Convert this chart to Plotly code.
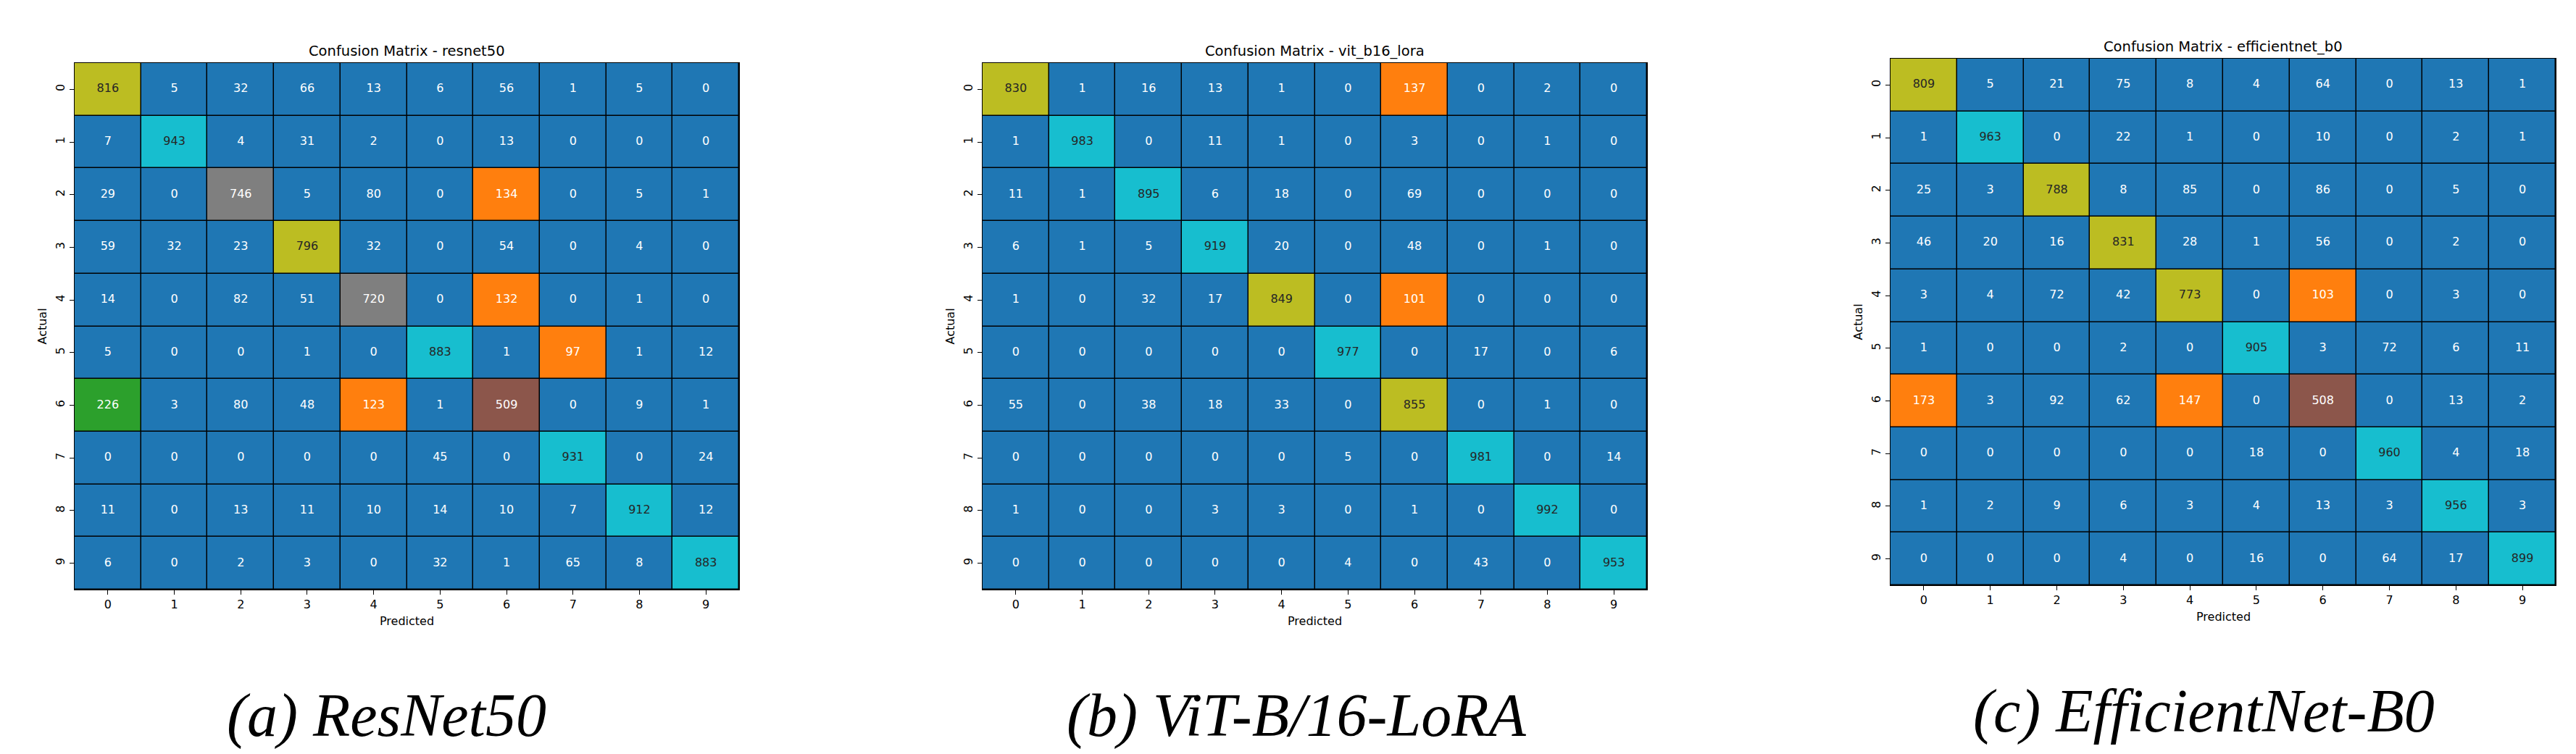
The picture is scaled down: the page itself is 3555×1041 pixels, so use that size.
import plotly.graph_objects as go

classes = list(range(10))
tick_labels = [str(c) for c in classes]

resnet50 = [
    [816, 5, 32, 66, 13, 6, 56, 1, 5, 0],
    [7, 943, 4, 31, 2, 0, 13, 0, 0, 0],
    [29, 0, 746, 5, 80, 0, 134, 0, 5, 1],
    [59, 32, 23, 796, 32, 0, 54, 0, 4, 0],
    [14, 0, 82, 51, 720, 0, 132, 0, 1, 0],
    [5, 0, 0, 1, 0, 883, 1, 97, 1, 12],
    [226, 3, 80, 48, 123, 1, 509, 0, 9, 1],
    [0, 0, 0, 0, 0, 45, 0, 931, 0, 24],
    [11, 0, 13, 11, 10, 14, 10, 7, 912, 12],
    [6, 0, 2, 3, 0, 32, 1, 65, 8, 883],
]

vit_b16_lora = [
    [830, 1, 16, 13, 1, 0, 137, 0, 2, 0],
    [1, 983, 0, 11, 1, 0, 3, 0, 1, 0],
    [11, 1, 895, 6, 18, 0, 69, 0, 0, 0],
    [6, 1, 5, 919, 20, 0, 48, 0, 1, 0],
    [1, 0, 32, 17, 849, 0, 101, 0, 0, 0],
    [0, 0, 0, 0, 0, 977, 0, 17, 0, 6],
    [55, 0, 38, 18, 33, 0, 855, 0, 1, 0],
    [0, 0, 0, 0, 0, 5, 0, 981, 0, 14],
    [1, 0, 0, 3, 3, 0, 1, 0, 992, 0],
    [0, 0, 0, 0, 0, 4, 0, 43, 0, 953],
]

efficientnet_b0 = [
    [809, 5, 21, 75, 8, 4, 64, 0, 13, 1],
    [1, 963, 0, 22, 1, 0, 10, 0, 2, 1],
    [25, 3, 788, 8, 85, 0, 86, 0, 5, 0],
    [46, 20, 16, 831, 28, 1, 56, 0, 2, 0],
    [3, 4, 72, 42, 773, 0, 103, 0, 3, 0],
    [1, 0, 0, 2, 0, 905, 3, 72, 6, 11],
    [173, 3, 92, 62, 147, 0, 508, 0, 13, 2],
    [0, 0, 0, 0, 0, 18, 0, 960, 4, 18],
    [1, 2, 9, 6, 3, 4, 13, 3, 956, 3],
    [0, 0, 0, 4, 0, 16, 0, 64, 17, 899],
]

model_names = ["resnet50", "vit_b16_lora", "efficientnet_b0"]
captions = ["(a) ResNet50", "(b) ViT-B/16-LoRA", "(c) EfficientNet-B0"]
matrices = [resnet50, vit_b16_lora, efficientnet_b0]

# ---------------- styling ----------------
W, H = 3555, 1041
tab10 = ["#1f77b4", "#ff7f0e", "#2ca02c", "#d62728", "#9467bd",
         "#8c564b", "#e377c2", "#7f7f7f", "#bcbd22", "#17becf"]
text_on = ["#ffffff"] * 8 + ["#262626"] * 2
colorscale = []
for i, c in enumerate(tab10):
    colorscale.append([i / 10, c])
    colorscale.append([(i + 1) / 10, c])

# pixel boxes of the three heatmaps: (left, right, top, bottom)
boxes = [(95, 1012, 79, 806), (1348, 2265, 79, 806), (2601, 3519, 73, 800)]
caption_x = [525, 1781, 3033]
caption_y = [980, 980, 974]

FONT = "DejaVu Sans"
fig = go.Figure()
annotations = []

for k, (mat, name, cap, box) in enumerate(zip(matrices, model_names, captions, boxes)):
    L, R, T, B = box
    ax = "" if k == 0 else str(k + 1)
    xa, ya = "x" + ax, "y" + ax
    vmax = max(max(r) for r in mat)
    fig.add_trace(go.Heatmap(
        z=mat, x=classes, y=classes, zmin=0, zmax=vmax,
        colorscale=colorscale, showscale=False, xgap=1.5, ygap=1.5,
        hoverinfo="skip", xaxis=xa, yaxis=ya,
    ))
    xs, ys, ts, cs = [], [], [], []
    for r, row in enumerate(mat):
        for c, v in enumerate(row):
            xs.append(classes[c]); ys.append(classes[r]); ts.append(str(v))
            b = min(int(v / vmax * 10), 9)
            cs.append(text_on[b])
    fig.add_trace(go.Scatter(
        x=xs, y=ys, text=ts, mode="text",
        textfont=dict(family=FONT, size=16, color=cs),
        hoverinfo="skip", showlegend=False, xaxis=xa, yaxis=ya,
    ))
    axis_common = dict(
        tickmode="array", tickvals=classes, ticktext=tick_labels,
        ticks="outside", ticklen=6, tickwidth=1.3, tickcolor="black",
        tickfont=dict(family=FONT, size=16, color="black"),
        showgrid=False, zeroline=False, showline=True, linecolor="black",
        linewidth=1.3, mirror=True,
    )
    fig.layout["xaxis" + ax] = dict(
        axis_common, domain=[L / W, R / W], range=[-0.5, 9.5], anchor=ya,
        fixedrange=True,
    )
    fig.layout["yaxis" + ax] = dict(
        axis_common, domain=[1 - B / H, 1 - T / H], range=[9.5, -0.5],
        anchor=xa, tickangle=-90, fixedrange=True,
    )
    cx = (L + R) / 2
    annotations += [
        dict(text=f"Confusion Matrix - {name}", x=cx / W, y=1 - (T - 17) / H,
             xref="paper", yref="paper", showarrow=False, xanchor="center",
             yanchor="middle", font=dict(family=FONT, size=19.5, color="black")),
        dict(text="Predicted", x=cx / W, y=1 - (B + 43) / H,
             xref="paper", yref="paper", showarrow=False, xanchor="center",
             yanchor="middle", font=dict(family=FONT, size=16, color="black")),
        dict(text="Actual", x=(L - 45) / W, y=1 - ((T + B) / 2) / H,
             xref="paper", yref="paper", showarrow=False, xanchor="center",
             yanchor="middle", textangle=-90,
             font=dict(family=FONT, size=16, color="black")),
        dict(text=f"<i>{cap}</i>", x=caption_x[k] / W, y=1 - caption_y[k] / H,
             xref="paper", yref="paper", showarrow=False, xanchor="center",
             yanchor="middle", font=dict(family="Liberation Serif", size=84, color="black")),
    ]

fig.update_layout(
    width=W, height=H, margin=dict(l=0, r=0, t=0, b=0),
    paper_bgcolor="white", plot_bgcolor="black", showlegend=False,
    annotations=annotations,
)

fig.write_html("out.html")
